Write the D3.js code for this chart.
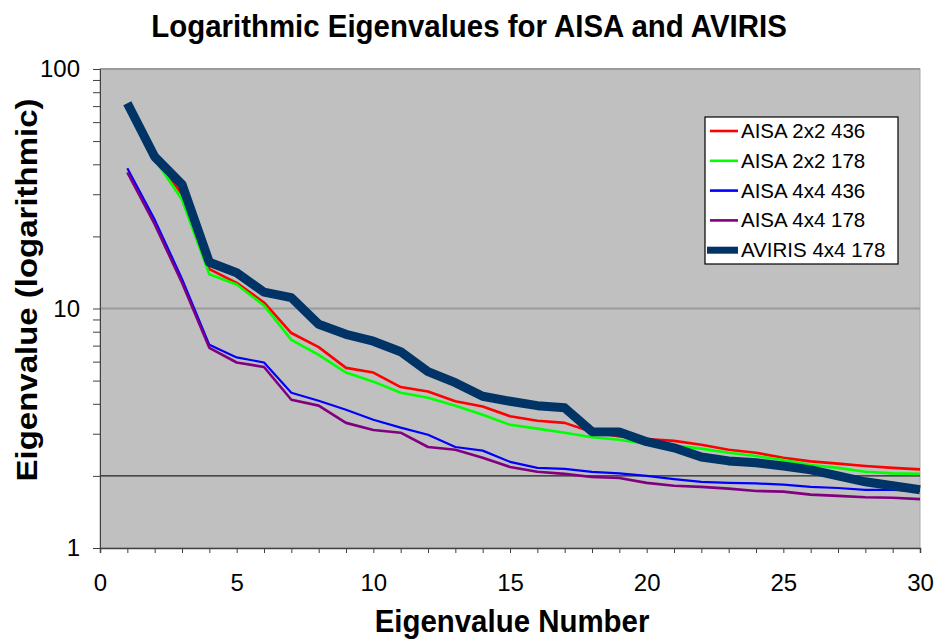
<!DOCTYPE html>
<html>
<head>
<meta charset="utf-8">
<script src="https://cdn.jsdelivr.net/npm/d3@7"></script>
<style>
  body { margin: 0; background: #fff; }
  svg { display: block; font-family: "Liberation Sans", Arial, sans-serif; }
  .axis path, .axis line { stroke: #404040; }
  .axis text { fill: #000; font-size: 24px; }
</style>
</head>
<body>
<div id="chart"></div>
<script>

// eigenvalue number 1..30
var eigenNumbers = d3.range(1, 31)

var seriesNames = ["AISA 2x2 436", "AISA 2x2 178", "AISA 4x4 436", "AISA 4x4 178", "AVIRIS 4x4 178"]

var aisa2x2_436 = [70, 43, 30, 14.6, 12.8, 10.6, 7.9, 6.9, 5.65, 5.4, 4.7, 4.5, 4.1, 3.9, 3.55, 3.4, 3.33, 3.05, 2.92, 2.85, 2.8, 2.7, 2.57, 2.5, 2.38, 2.3, 2.25, 2.2, 2.16, 2.13]
var aisa2x2_178 = [68, 42, 28.5, 13.9, 12.6, 10.3, 7.4, 6.4, 5.4, 4.95, 4.45, 4.24, 3.93, 3.6, 3.27, 3.15, 3.03, 2.9, 2.83, 2.72, 2.68, 2.6, 2.5, 2.42, 2.33, 2.22, 2.16, 2.08, 2.05, 2.04]
var aisa4x4_436 = [38.5, 23.5, 13.3, 7.05, 6.25, 5.95, 4.45, 4.12, 3.78, 3.43, 3.18, 2.97, 2.64, 2.55, 2.29, 2.16, 2.14, 2.08, 2.05, 2.0, 1.94, 1.89, 1.87, 1.86, 1.84, 1.8, 1.78, 1.75, 1.75, 1.73]
var aisa4x4_178 = [37, 22.5, 12.8, 6.85, 5.95, 5.7, 4.16, 3.93, 3.33, 3.11, 3.03, 2.64, 2.57, 2.38, 2.18, 2.08, 2.04, 1.98, 1.96, 1.87, 1.82, 1.8, 1.77, 1.73, 1.72, 1.67, 1.65, 1.63, 1.62, 1.6]
var aviris4x4_178 = [72, 43, 33, 15.6, 14.1, 11.7, 11.1, 8.6, 7.8, 7.3, 6.6, 5.45, 4.9, 4.3, 4.1, 3.93, 3.85, 3.06, 3.05, 2.78, 2.62, 2.4, 2.31, 2.27, 2.2, 2.12, 2.0, 1.89, 1.82, 1.75]

var xTickValues = d3.range(0, 31)
var xTickLabels = [0, 5, 10, 15, 20, 25, 30]
var yTickValues = [1,2,3,4,5,6,7,8,9,10,20,30,40,50,60,70,80,90,100]
var yTickLabels = [1, 10, 100]
var yGridValues = [10, 100]
var thresholdValue = 2

var colors = ["#ff0000", "#00ff00", "#0000ff", "#800080", "#003366"]
var widths = [2.6, 2.6, 2.2, 2.6, 9]

var seriesValues = [aisa2x2_436, aisa2x2_178, aisa4x4_436, aisa4x4_178, aviris4x4_178]

var series = seriesNames.map(function(name, i) {
	return {
		name: name,
		color: colors[i],
		width: widths[i],
		values: seriesValues[i].map(function(v, j) { return {n: eigenNumbers[j], v: v} })
	}
})

function drawChart() {

	var width = 935, height = 639
	var margin = {top: 69, right: 15, bottom: 91, left: 100}
	var w = width - margin.left - margin.right
	var h = height - margin.top - margin.bottom

	var svg = d3.select("#chart").append("svg")
		.attr("width", width)
		.attr("height", height)

	var x = d3.scaleLinear().domain([0, 30]).range([0, w])
	var y = d3.scaleLog().domain([1, 100]).range([h, 0])

	var features = svg.append("g").attr("transform", "translate(" + margin.left + "," + margin.top + ")")

	// plot area
	features.append("rect")
		.attr("width", w)
		.attr("height", h)
		.attr("fill", "#c0c0c0")
		.attr("stroke", "#a8a8a8")

	features.selectAll(".grid")
		.data(yGridValues)
		.enter().append("line")
		.attr("class", "grid")
		.attr("x1", 0)
		.attr("x2", w)
		.attr("y1", function(d) { return y(d) })
		.attr("y2", function(d) { return y(d) })
		.attr("stroke", "#9a9a9a")
		.attr("stroke-width", 2)

	features.append("line")
		.attr("x1", 0)
		.attr("x2", w)
		.attr("y1", y(thresholdValue))
		.attr("y2", y(thresholdValue))
		.attr("stroke", "#222")
		.attr("stroke-width", 1.3)

	var xAxis = d3.axisBottom(x)
		.tickValues(xTickValues)
		.tickSize(5)
		.tickPadding(21)
		.tickFormat(function(d) { return xTickLabels.indexOf(d) > -1 ? d : "" })

	var yAxis = d3.axisLeft(y)
		.tickValues(yTickValues)
		.tickSize(7)
		.tickPadding(13)
		.tickFormat(function(d) { return yTickLabels.indexOf(d) > -1 ? d : "" })

	features.append("g")
		.attr("class", "x axis")
		.attr("transform", "translate(0," + h + ")")
		.call(xAxis)
		.call(function(g) { g.select(".domain").attr("stroke-width", 1.5) })

	features.append("g")
		.attr("class", "y axis")
		.call(yAxis)
		.call(function(g) { g.select(".domain").attr("stroke", "#8a8a8a") })

	var line = d3.line()
		.x(function(d) { return x(d.n) })
		.y(function(d) { return y(d.v) })

	features.selectAll(".series")
		.data(series)
		.enter().append("path")
		.attr("class", "series")
		.attr("fill", "none")
		.attr("stroke", function(d) { return d.color })
		.attr("stroke-width", function(d) { return d.width })
		.attr("stroke-linejoin", "round")
		.attr("d", function(d) { return line(d.values) })

	// legend
	var legend = svg.append("g").attr("transform", "translate(705,117)")

	legend.append("rect")
		.attr("width", 193)
		.attr("height", 147)
		.attr("fill", "#fff")
		.attr("stroke", "#000")
		.attr("stroke-width", 1.2)

	var items = legend.selectAll(".item")
		.data(series)
		.enter().append("g")
		.attr("class", "item")
		.attr("transform", function(d, i) { return "translate(0," + (14 + i * 29.8) + ")" })

	items.append("line")
		.attr("x1", function(d) { return d.width > 5 ? 2 : 5 })
		.attr("x2", 33)
		.attr("stroke", function(d) { return d.color })
		.attr("stroke-width", function(d) { return d.width > 5 ? 7 : 2.6 })

	items.append("text")
		.attr("x", 36)
		.attr("y", 7)
		.style("font-size", "20.5px")
		.text(function(d) { return d.name })

	// titles
	svg.append("text")
		.attr("transform", "translate(469,37) scale(0.92,1)")
		.attr("text-anchor", "middle")
		.style("font-size", "32px")
		.style("font-weight", "bold")
		.text("Logarithmic Eigenvalues for AISA and AVIRIS")

	svg.append("text")
		.attr("transform", "translate(512,632) scale(0.92,1)")
		.attr("text-anchor", "middle")
		.style("font-size", "32px")
		.style("font-weight", "bold")
		.text("Eigenvalue Number")

	svg.append("text")
		.attr("transform", "translate(37,290) rotate(-90) scale(1,0.92)")
		.attr("text-anchor", "middle")
		.style("font-size", "33px")
		.style("font-weight", "bold")
		.text("Eigenvalue (logarithmic)")
}

drawChart()

</script>
</body>
</html>
